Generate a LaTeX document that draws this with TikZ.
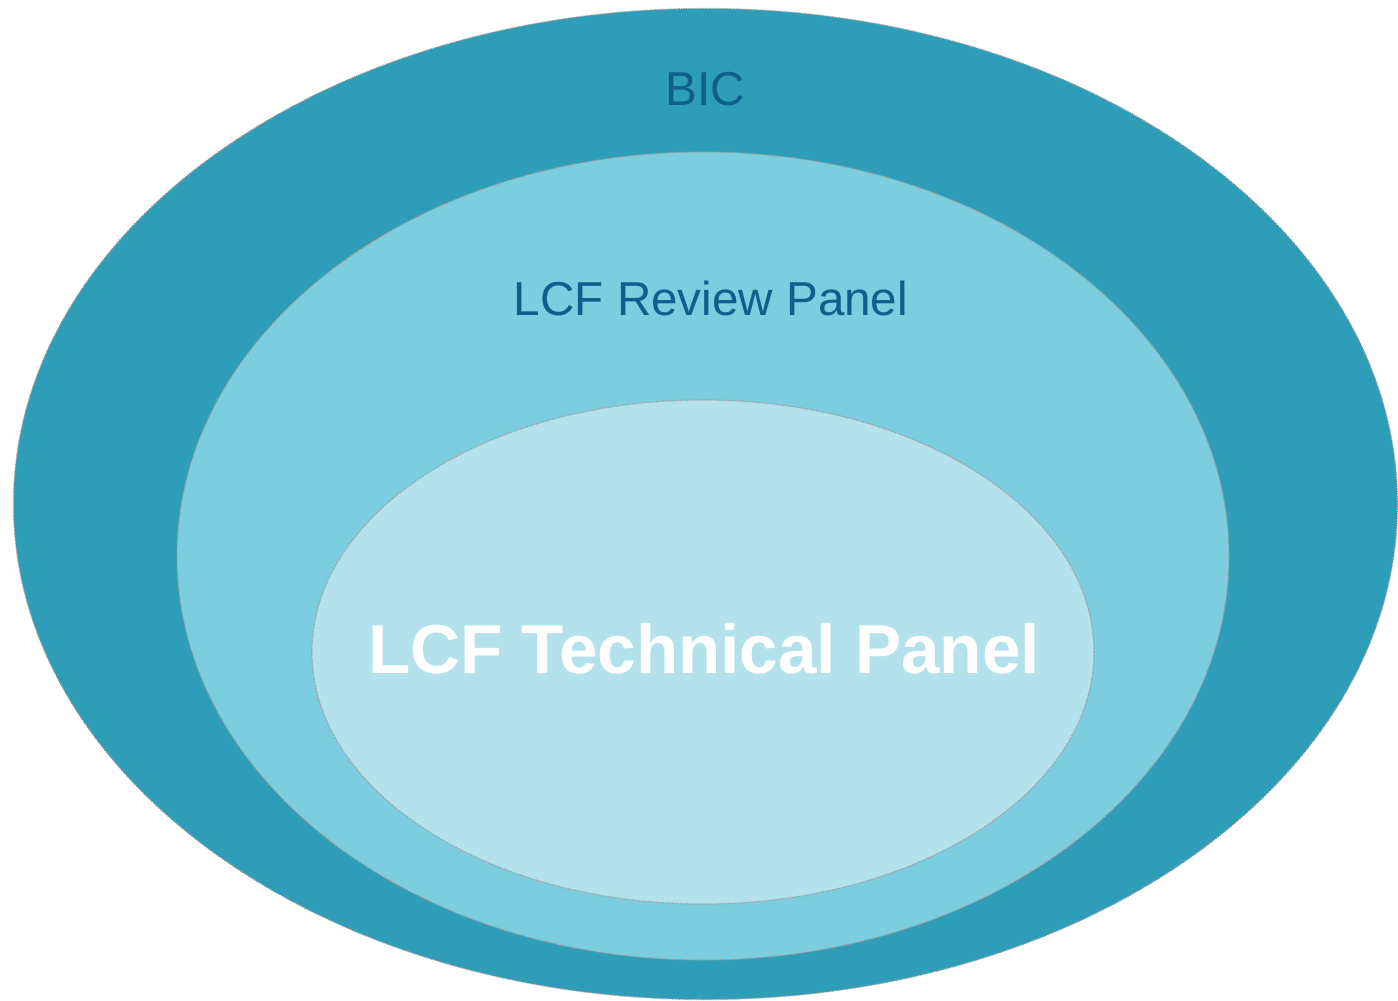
\documentclass[tikz,border=0pt]{standalone}
\usepackage{fontspec}
\setmainfont{Liberation Sans}
\usetikzlibrary{shapes.geometric}
\definecolor{outerc}{HTML}{2E9EB8}
\definecolor{midc}{HTML}{7BCDDF}
\definecolor{innerc}{HTML}{B4E2EC}
\definecolor{textc}{HTML}{0F5E8C}
\definecolor{edgec}{HTML}{9A9A9A}
\tikzset{
  ring/.style={ellipse, inner sep=0pt, draw=edgec, line width=0.6pt, dash pattern=on 0.6pt off 0.6pt},
  lbl/.style={anchor=base, inner sep=0pt, text=textc, font=\fontsize{23.8}{28}\selectfont},
  biglbl/.style={anchor=base, inner sep=0pt, text=white, font=\fontsize{34.6}{40}\selectfont\bfseries}
}
\begin{document}
\begin{tikzpicture}[x=0.5pt,y=-0.5pt]
\useasboundingbox (0,0) rectangle (1398,1001);
\node[ring, fill=outerc, minimum width=692pt, minimum height=495.5pt] (bic) at (705.5,504) {};
\node[ring, fill=midc, minimum width=526pt, minimum height=404pt] (review) at (703,556) {};
\node[ring, fill=innerc, minimum width=391pt, minimum height=252pt] (tech) at (703,652) {};
\node[lbl] (biclbl) at (705,105) {BIC};
\node[lbl] (reviewlbl) at (711,315) {LCF Review Panel};
\node[biglbl] (techlbl) at (704,673) {LCF Technical Panel};
\end{tikzpicture}
\end{document}
